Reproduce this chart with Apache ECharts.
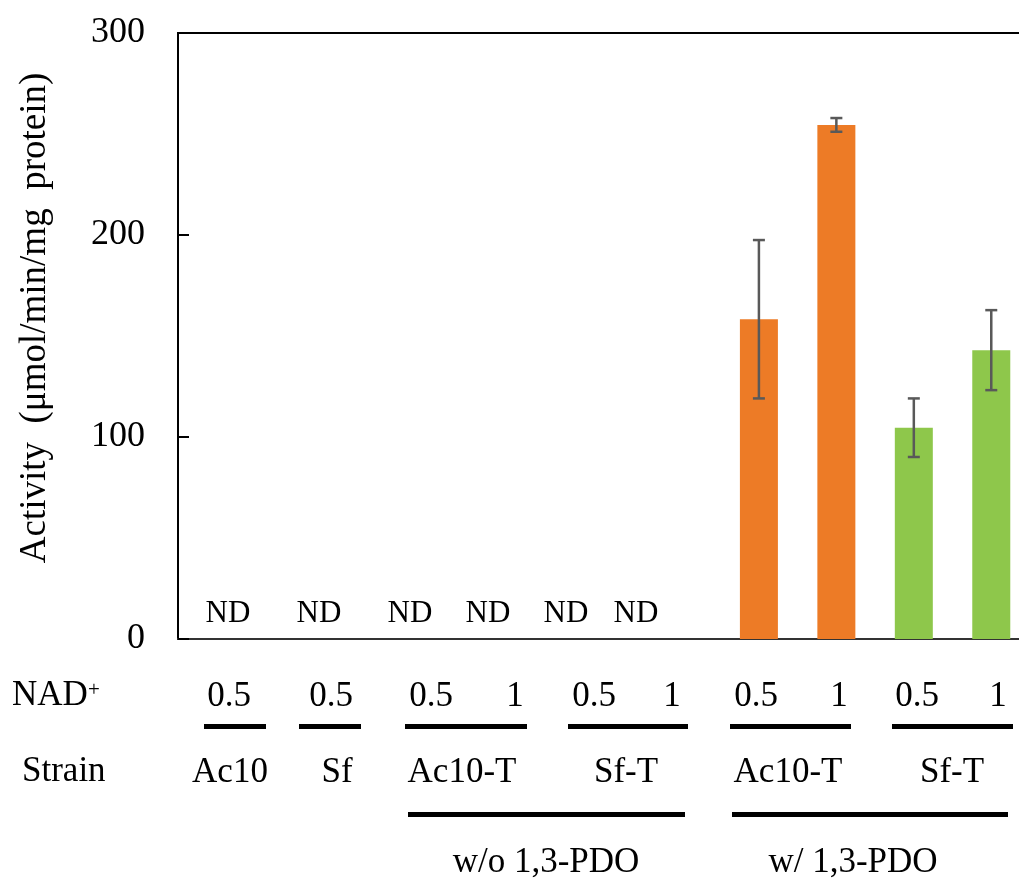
<!DOCTYPE html>
<html><head><meta charset="utf-8">
<script src="https://cdn.jsdelivr.net/npm/echarts@6/dist/echarts.min.js"></script>
<style>html,body{margin:0;padding:0;background:#fff}#c{width:1019px;height:879px}</style>
</head><body><div id="c"></div>
<script>
// ---------------- data ----------------
const categories = ['Ac10 0.5','Sf 0.5','Ac10-T 0.5','Ac10-T 1','Sf-T 0.5','Sf-T 1',
                    'Ac10-T 0.5 +PDO','Ac10-T 1 +PDO','Sf-T 0.5 +PDO','Sf-T 1 +PDO'];
const categoryStrain = ['Ac10','Sf','Ac10-T','Ac10-T','Sf-T','Sf-T','Ac10-T','Ac10-T','Sf-T','Sf-T'];
const activity = [0,0,0,0,0,0,158.3,254.5,104.6,143.0];
const errorSD  = [0,0,0,0,0,0,39.2,3.4,14.5,19.8];
const notDetected = [true,true,true,true,true,true,false,false,false,false];
const nadConc = ['0.5','0.5','0.5','1','0.5','1','0.5','1','0.5','1'];
const strainNames = ['Ac10','Sf','Ac10-T','Sf-T','Ac10-T','Sf-T'];
const pdoGroups = ['w/o 1,3-PDO','w/ 1,3-PDO'];
const yTicks = [0,100,200,300];
const yTitle = 'Activity  (μmol/min/mg  protein)';
const ndText = 'ND';
const rowTitles = ['NAD', 'Strain'];

// ---------------- styles / layout ----------------
const FONT = '"Liberation Serif","Times New Roman",serif';
const strainColor = {'Ac10':'#ED7B26','Sf':'#8EC74B','Ac10-T':'#ED7B26','Sf-T':'#8EC74B'};
const L = {
  ndX:[228,319,410,488,566,636], ndY:614,
  nadX:[229,331,431,515,594,672,756,839,917,998], nadY:697,
  nadLines:[[204,266],[299,361],[405,527],[568,688],[730,851],[892,1013]], nadLineY:724,
  strainX:[230,337,462,626,788,952], strainY:773,
  groupLines:[[408,685],[732,1008]], groupLineY:812,
  groupX:[546,853], groupY:863
};

const chart = echarts.init(document.getElementById('c'));
const g = [];
const txt = (s, x, y, size, align) => ({type:'text', x, y, silent:true,
  style:{text:s, font:size+'px '+FONT, fill:'#000', align:align||'center', verticalAlign:'middle'}});
let ndCount = 0;
notDetected.forEach((nd) => { if (nd) { g.push(txt(ndText, L.ndX[ndCount], L.ndY, 31)); ndCount++; } });
nadConc.forEach((s, i) => g.push(txt(s, L.nadX[i], L.nadY, 35)));
L.nadLines.forEach(([a,b]) => g.push({type:'rect', silent:true, shape:{x:a, y:L.nadLineY, width:b-a, height:5}, style:{fill:'#000'}}));
strainNames.forEach((s, i) => g.push(txt(s, L.strainX[i], L.strainY, 35)));
L.groupLines.forEach(([a,b]) => g.push({type:'rect', silent:true, shape:{x:a, y:L.groupLineY, width:b-a, height:5}, style:{fill:'#000'}}));
pdoGroups.forEach((s, i) => g.push(txt(s, L.groupX[i], L.groupY, 35)));
g.push(txt(rowTitles[0], 12, 696, 35, 'left'));
g.push(txt('+', 94, 690, 21));
g.push(txt(rowTitles[1], 22, 772, 35, 'left'));
g.push({type:'text', x:35, y:318, rotation:Math.PI/2, silent:true,
  style:{text:yTitle, font:'37px '+FONT, fill:'#000', align:'center', verticalAlign:'middle'}});

chart.setOption({
  animation:false,
  backgroundColor:'#fff',
  grid:{left:178, width:852, top:33, bottom:240, outerBoundsMode:'none', containLabel:false,
        show:true, borderColor:'#000', borderWidth:2},
  xAxis:{type:'category', data:categories, min:-1, max:9,
    axisLine:{show:true, lineStyle:{color:'#333', width:2}}, axisTick:{show:false}, axisLabel:{show:false}},
  yAxis:{type:'value', min:yTicks[0], max:yTicks[yTicks.length-1], interval:100,
    axisLine:{show:true, lineStyle:{color:'#000', width:2}},
    axisTick:{show:true, inside:true, length:11, lineStyle:{color:'#000', width:2}},
    axisLabel:{margin:33, fontSize:36, fontFamily:FONT, color:'#000'},
    splitLine:{show:false}},
  series:[
    {type:'bar', barWidth:38, data:activity.map((v,i)=>({value:v, itemStyle:{color:strainColor[categoryStrain[i]]}}))},
    {type:'custom', z:10, data:categories.map((c,i)=>[i, activity[i], errorSD[i]]),
     renderItem:(params, api) => {
       const i = api.value(0), v = api.value(1), e = api.value(2);
       if (!e) return null;
       const t = api.coord([i, v+e]), b = api.coord([i, v-e]);
       const st = {stroke:'#595959', lineWidth:2.5};
       return {type:'group', children:[
         {type:'line', shape:{x1:t[0], y1:t[1], x2:b[0], y2:b[1]}, style:st},
         {type:'line', shape:{x1:t[0]-6, y1:t[1], x2:t[0]+6, y2:t[1]}, style:st},
         {type:'line', shape:{x1:b[0]-6, y1:b[1], x2:b[0]+6, y2:b[1]}, style:st}
       ]};
     }}
  ],
  graphic:g
});
</script></body></html>
